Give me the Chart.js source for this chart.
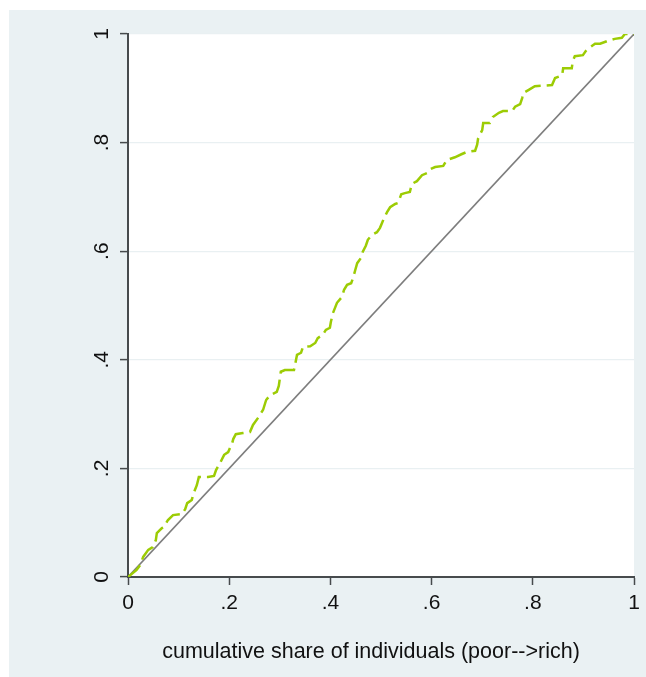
<!DOCTYPE html>
<html>
<head>
<meta charset="utf-8">
<script src="https://cdn.jsdelivr.net/npm/chart.js@4"></script>
<style>
  body { margin: 0; background: #fff; }
  canvas { display: block; }
</style>
</head>
<body>
<canvas id="lorenz" width="646" height="677"></canvas>
<script>
// ================= DATA =================
// cumulative share of individuals (x) vs cumulative share (y)
let shareX = [0, 0.017, 0.024, 0.030, 0.040, 0.049, 0.055, 0.057, 0.067, 0.071, 0.079, 0.089,
    0.107, 0.113, 0.117, 0.126, 0.130, 0.136, 0.140, 0.158, 0.170, 0.174, 0.182, 0.190, 0.198,
    0.206, 0.208, 0.213, 0.227, 0.241, 0.247, 0.257, 0.267, 0.273, 0.281, 0.294, 0.298, 0.302,
    0.310, 0.328, 0.334, 0.342, 0.346, 0.360, 0.370, 0.375, 0.385, 0.391, 0.399, 0.401, 0.405,
    0.413, 0.423, 0.427, 0.433, 0.441, 0.445, 0.449, 0.453, 0.460, 0.464, 0.470, 0.474, 0.482,
    0.492, 0.498, 0.502, 0.506, 0.512, 0.518, 0.528, 0.534, 0.540, 0.547, 0.557, 0.561, 0.571,
    0.581, 0.591, 0.595, 0.607, 0.623, 0.630, 0.646, 0.660, 0.670, 0.686, 0.690, 0.692, 0.700,
    0.702, 0.715, 0.721, 0.733, 0.741, 0.759, 0.765, 0.775, 0.779, 0.781, 0.792, 0.804, 0.838,
    0.844, 0.858, 0.860, 0.877, 0.879, 0.883, 0.899, 0.905, 0.911, 0.923, 0.933, 0.947, 0.962,
    0.976, 0.982, 1];
let shareY = [0, 0.013, 0.022, 0.037, 0.050, 0.055, 0.068, 0.081, 0.090, 0.092, 0.105, 0.114,
    0.116, 0.125, 0.136, 0.142, 0.155, 0.169, 0.184, 0.184, 0.186, 0.197, 0.210, 0.225, 0.230,
    0.247, 0.254, 0.263, 0.265, 0.267, 0.280, 0.293, 0.308, 0.326, 0.335, 0.341, 0.352, 0.378,
    0.381, 0.381, 0.409, 0.413, 0.424, 0.425, 0.431, 0.440, 0.446, 0.455, 0.459, 0.470, 0.486,
    0.505, 0.516, 0.529, 0.538, 0.541, 0.551, 0.565, 0.578, 0.587, 0.599, 0.610, 0.621, 0.630,
    0.635, 0.643, 0.652, 0.661, 0.672, 0.681, 0.687, 0.689, 0.705, 0.707, 0.709, 0.724, 0.729,
    0.740, 0.744, 0.750, 0.755, 0.757, 0.768, 0.773, 0.779, 0.783, 0.785, 0.796, 0.808, 0.823,
    0.836, 0.836, 0.847, 0.855, 0.858, 0.858, 0.866, 0.871, 0.882, 0.891, 0.897, 0.904, 0.906,
    0.919, 0.924, 0.937, 0.937, 0.950, 0.959, 0.961, 0.969, 0.974, 0.982, 0.982, 0.987, 0.991,
    0.993, 1.0, 1.0];

// line of equality
let equalX = [0, 1];
let equalY = [0, 1];

let tickVals = [0, 0.2, 0.4, 0.6, 0.8, 1];
let tickLabels = ["0", ".2", ".4", ".6", ".8", "1"];
let xTitle = "cumulative share of individuals (poor-->rich)";

// ================= HELPERS =================
function toPoints(xs, ys) {
    return xs.map((x, i) => ({ x: x, y: ys[i] }));
}

function setTicks(scale) {
    scale.ticks = tickVals.map(v => ({ value: v }));
}

function tickLabel(value) {
    let i = tickVals.findIndex(v => Math.abs(v - value) < 1e-9);
    return i >= 0 ? tickLabels[i] : "";
}

const FONT = "'Liberation Sans', Arial, sans-serif";
const AXIS = "#474b4d";

// background, white plot region and x-axis title
const stataFrame = {
    id: "stataFrame",
    beforeDraw(chart) {
        let ctx = chart.ctx;
        let a = chart.chartArea;
        ctx.save();
        ctx.fillStyle = "#fff";
        ctx.fillRect(0, 0, chart.width, chart.height);
        ctx.fillStyle = "#eaf1f3";
        ctx.fillRect(9, 10, chart.width - 9, chart.height - 10);
        ctx.fillStyle = "#fff";
        ctx.fillRect(a.left, a.top, a.right - a.left, a.bottom - a.top);
        ctx.restore();
    },
    afterDraw(chart) {
        let ctx = chart.ctx;
        ctx.save();
        ctx.fillStyle = "#111";
        ctx.font = "21.5px " + FONT;
        ctx.textAlign = "center";
        ctx.textBaseline = "middle";
        ctx.fillText(xTitle, 371, 652);
        ctx.restore();
    }
};

// ================= CHART =================
new Chart(document.getElementById("lorenz"), {
    type: "scatter",
    data: {
        datasets: [{
            label: "Lorenz",
            data: toPoints(shareX, shareY),
            showLine: true,
            borderColor: "#9ccc04",
            borderWidth: 2.5,
            borderDash: [17, 6],
            pointRadius: 0,
            tension: 0
        }, {
            label: "Equality",
            data: toPoints(equalX, equalY),
            showLine: true,
            borderColor: "#7d7d7d",
            borderWidth: 1.6,
            pointRadius: 0
        }]
    },
    options: {
        responsive: false,
        animation: false,
        layout: { padding: { left: 68, right: 12, top: 34, bottom: 0 } },
        plugins: { legend: { display: false }, tooltip: { enabled: false } },
        scales: {
            x: {
                type: "linear",
                min: 0,
                max: 1,
                afterBuildTicks: setTicks,
                afterFit(scale) { scale.height = 100; },
                grid: { drawOnChartArea: false, drawTicks: true, tickLength: 8, tickColor: AXIS, tickWidth: 1.5 },
                border: { display: true, color: AXIS, width: 2 },
                ticks: {
                    callback: tickLabel,
                    padding: 6,
                    maxRotation: 0,
                    color: "#111",
                    font: { family: FONT, size: 21 }
                }
            },
            y: {
                type: "linear",
                min: 0,
                max: 1,
                afterBuildTicks: setTicks,
                afterFit(scale) { scale.width = 60; },
                grid: { color: "#e9f0f2", lineWidth: 1.2, drawTicks: true, tickLength: 8, tickColor: AXIS, tickWidth: 1.5 },
                border: { display: true, color: AXIS, width: 2 },
                ticks: {
                    callback: tickLabel,
                    minRotation: 90,
                    maxRotation: 90,
                    crossAlign: "center",
                    padding: 9,
                    color: "#111",
                    font: { family: FONT, size: 21 }
                }
            }
        }
    },
    plugins: [stataFrame]
});
</script>
</body>
</html>
